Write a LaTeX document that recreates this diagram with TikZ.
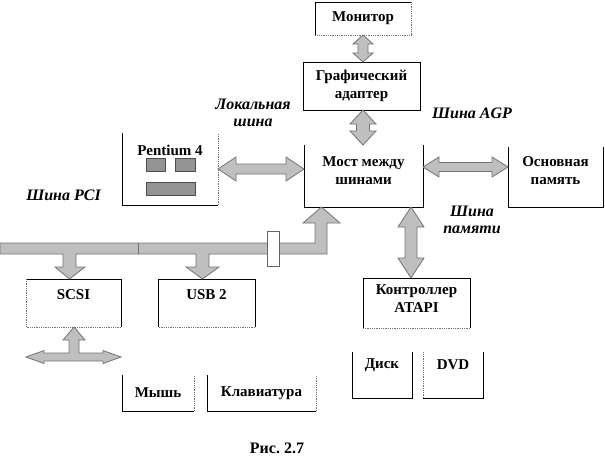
\documentclass[tikz,border=0pt]{standalone}
\usepackage{fontspec}
\setmainfont{Liberation Serif}
\newfontfamily\timesfont{Liberation Serif}
\usetikzlibrary{positioning,calc}
\tikzset{
    box/.style={
        rectangle,
        inner sep=0pt,
        outer sep=0pt,
        align=center,
        font=\timesfont\fontsize{15}{18}\selectfont\bfseries,
    },
    txt/.style={
        inner sep=0pt,
        align=center,
        font=\timesfont\fontsize{15}{18}\selectfont\bfseries,
    },
    busname/.style={
        inner sep=0pt,
        align=center,
        font=\timesfont\fontsize{16}{17}\selectfont\bfseries\itshape,
    },
    side/.style={
        draw=black,
        line width=0.8pt,
    },
    dotside/.style={
        draw=black!55,
        densely dotted,
        line width=0.8pt,
    },
    blk/.style={
        draw=black!55,
        fill=black!25,
        line width=0.8pt,
        line join=miter,
    },
    chip/.style={
        draw=black!70,
        fill=black!42,
        line width=0.8pt,
    },
}
% vertical block double arrow: top, bottom, head half width, shaft half width, head length
\newcommand{\vblock}[5]{%
    \filldraw[blk] let \p1=(#1), \p2=(#2) in
        (\x1,\y1) -- (\x1+#3pt,\y1-#5pt) -- (\x1+#4pt,\y1-#5pt) -- (\x1+#4pt,\y2+#5pt)
        -- (\x1+#3pt,\y2+#5pt) -- (\x1,\y2) -- (\x1-#3pt,\y2+#5pt) -- (\x1-#4pt,\y2+#5pt)
        -- (\x1-#4pt,\y1-#5pt) -- (\x1-#3pt,\y1-#5pt) -- cycle;}
% horizontal block double arrow: left, right, head half height, shaft half height, head length
\newcommand{\hblock}[5]{%
    \filldraw[blk] let \p1=(#1), \p2=(#2) in
        (\x1,\y1) -- (\x1+#5pt,\y1+#3pt) -- (\x1+#5pt,\y1+#4pt) -- (\x2-#5pt,\y1+#4pt)
        -- (\x2-#5pt,\y1+#3pt) -- (\x2,\y1) -- (\x2-#5pt,\y1-#3pt) -- (\x2-#5pt,\y1-#4pt)
        -- (\x1+#5pt,\y1-#4pt) -- (\x1+#5pt,\y1-#3pt) -- cycle;}

\begin{document}
\begin{tikzpicture}[x=1pt,y=-1pt]
    \useasboundingbox (0,0) rectangle (605,472);

    % blocks
    \node [box, minimum width=96pt, minimum height=33pt] (mon) at (363,18.5) {Монитор};
    \node [box, minimum width=117pt, minimum height=48pt] (gpu) at (361.5,86) {Графический\\адаптер};
    \node [box, minimum width=96pt, minimum height=72pt] (pent) at (170,169) {};
    \node [box, minimum width=119pt, minimum height=62pt] (bridge) at (363.5,176) {};
    \node [box, minimum width=95pt, minimum height=60pt] (mem) at (555.5,177) {};
    \node [box, minimum width=95pt, minimum height=48pt] (scsi) at (73.5,303) {};
    \node [box, minimum width=97pt, minimum height=48pt] (usb) at (206.5,303) {};
    \node [box, minimum width=107pt, minimum height=50pt] (atapi) at (416.5,303) {};
    \node [box, minimum width=72pt, minimum height=36pt] (mouse) at (158,393) {Мышь};
    \node [box, minimum width=109pt, minimum height=36pt] (kbd) at (261.5,393) {Клавиатура};
    \node [box, minimum width=60pt, minimum height=46pt] (disk) at (382,375) {};
    \node [box, minimum width=60pt, minimum height=46pt] (dvd) at (453,375) {};

    % texts inside blocks
    \node [txt] (pent-t) at ([yshift=19pt]pent.center) {Pentium 4};
    \node [txt] (bridge-t) at ([yshift=5pt]bridge.center) {Мост между\\шинами};
    \node [txt] (mem-t) at ([yshift=6pt]mem.center) {Основная\\память};
    \node [txt] (scsi-t) at ([yshift=8pt]scsi.center) {SCSI};
    \node [txt] (usb-t) at ([yshift=8pt]usb.center) {USB 2};
    \node [txt] (atapi-t) at ([yshift=4.5pt]atapi.center) {Контроллер\\ATAPI};
    \node [txt] (disk-t) at ([yshift=10pt]disk.center) {Диск};
    \node [txt] (dvd-t) at ([yshift=10pt]dvd.center) {DVD};

    % bus names
    \node [busname] (local) at (253,113) {Локальная\\шина};
    \node [busname, anchor=west] (agp) at (432,113) {Шина AGP};
    \node [busname] (membus) at (472,220) {Шина\\памяти};
    \node [busname] (pci) at (63.5,195) {Шина PCI};
    \node [txt, font=\timesfont\fontsize{16}{18}\selectfont\bfseries] (caption) at (277,448) {Рис.\ 2.7};

    % block outlines
    \draw [side] (mon.south west) -- (mon.north west) -- (mon.north east);
    \draw [dotside] (mon.north east) -- (mon.south east) -- (mon.south west);
    \draw [side] (gpu.south west) rectangle (gpu.north east);
    \draw [side] (pent.north west) -- (pent.south west) -- (pent.south east);
    \draw [dotside] (pent.south east) -- (pent.north east);
    \draw [side] (bridge.north west) -- (bridge.south west) -- (bridge.south east) -- (bridge.north east);
    \draw [side] (mem.north west) -- (mem.south west) -- (mem.south east) -- (mem.north east);
    \draw [side] (scsi.south east) -- (scsi.north east) -- (scsi.north west);
    \draw [dotside] (scsi.north west) -- (scsi.south west) -- (scsi.south east);
    \draw [side] (usb.south west) -- (usb.north west) -- (usb.north east) -- (usb.south east);
    \draw [dotside] (usb.south east) -- (usb.south west);
    \draw [side] (atapi.south west) -- (atapi.north west) -- (atapi.north east) -- (atapi.south east);
    \draw [dotside] (atapi.south east) -- (atapi.south west);
    \draw [side] (mouse.north west) -- (mouse.south west) -- (mouse.south east);
    \draw [dotside] (mouse.south east) -- (mouse.north east);
    \draw [side] (kbd.north west) -- (kbd.south west) -- (kbd.south east);
    \draw [dotside] (kbd.south east) -- (kbd.north east);
    \draw [side] (disk.north west) -- (disk.south west) -- (disk.south east) -- (disk.north east);
    \draw [side] (dvd.south west) -- (dvd.south east) -- (dvd.north east);
    \draw [dotside] (dvd.south west) -- (dvd.north west);

    % processor chips
    \filldraw [chip] (146,158) rectangle (165,171);
    \filldraw [chip] (175,158) rectangle (195,171);
    \filldraw [chip] (146,182) rectangle (195,195);

    % double block arrows
    \vblock{mon.south}{gpu.north}{10}{5}{9}
    \coordinate (gpuA) at ([xshift=1.5pt]gpu.south);
    \vblock{gpuA}{bridge.north}{13}{6.5}{14}
    \coordinate (ataA) at ([xshift=-5.5pt]atapi.north);
    \vblock{ataA |- bridge.south}{atapi.north}{13}{6}{20}
    \hblock{pent.east}{bridge.west}{12}{5}{18}
    \coordinate (bridgeA) at ([yshift=9pt]bridge.east);
    \hblock{bridgeA}{mem.west}{10}{4.5}{16}

    % PCI bus with branches
    \filldraw [blk] (0,243) -- (315,243) -- (315,223) -- (303,223) -- (321.5,0 |- bridge.south)
        -- (340,223) -- (327,223) -- (327,254) -- (209,254) -- (209,267) -- (219,267)
        -- (202.5,0 |- usb.north) -- (186,267) -- (196,267) -- (196,254) -- (76,254)
        -- (76,267) -- (85,267) -- (69.5,0 |- scsi.north) -- (55,267) -- (63,267)
        -- (63,254) -- (0,254) -- cycle;
    \draw [draw=black!55, line width=0.8pt] (138,243) -- (138,254);
    \filldraw [draw=black!60, fill=white, line width=0.8pt] (267,231) rectangle (279,266);

    % SCSI bus
    \filldraw [blk] (scsi.south west |- 0,357) -- (44,350.5) -- (44,353) -- (69,353) -- (69,340)
        -- (63,340) -- (74,0 |- scsi.south) -- (85,340) -- (79,340) -- (79,353) -- (103,353)
        -- (103,350.5) -- (scsi.south east |- 0,357) -- (103,363.5) -- (103,361) -- (44,361)
        -- (44,363.5) -- cycle;
\end{tikzpicture}
\end{document}
